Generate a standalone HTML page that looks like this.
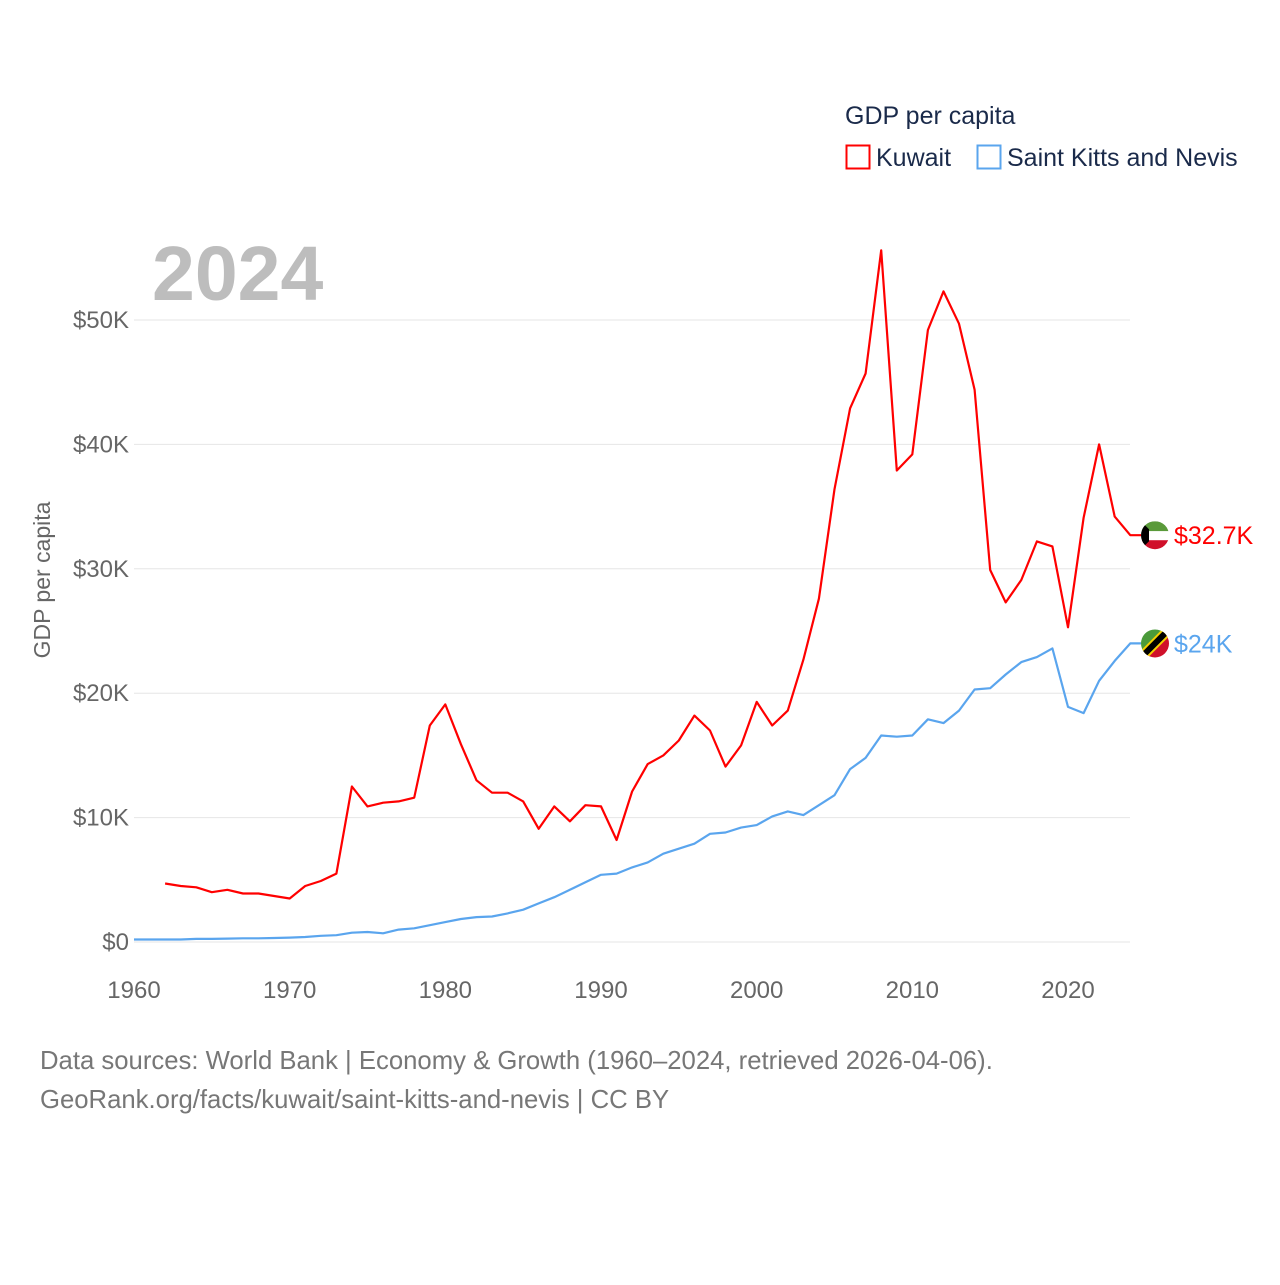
<!DOCTYPE html>
<html><head><meta charset="utf-8"><style>
body{margin:0;background:#fff;width:1280px;height:1280px;overflow:hidden;font-family:"Liberation Sans",sans-serif}
</style></head><body>
<svg id="chart" width="1280" height="1280" xmlns="http://www.w3.org/2000/svg" font-family="Liberation Sans, sans-serif">
<text x="845" y="124" font-size="25" fill="#1a2a4a">GDP per capita</text>
<rect x="846.5" y="145.5" width="23" height="23" fill="none" stroke="#f00" stroke-width="2"/>
<text x="876" y="166" font-size="25" fill="#1a2a4a">Kuwait</text>
<rect x="977.5" y="145.5" width="23" height="23" fill="none" stroke="#5aa5ee" stroke-width="2"/>
<text x="1007" y="166" font-size="25" fill="#1a2a4a">Saint Kitts and Nevis</text>
<text x="152" y="300" font-size="77" font-weight="bold" fill="#bdbdbd">2024</text>
<text transform="translate(50,580) rotate(-90)" text-anchor="middle" font-size="23" fill="#666">GDP per capita</text>
<g id="grid"></g><g id="series"></g>
<text x="40" y="1069" font-size="25.7" fill="#777">Data sources: World Bank | Economy &amp; Growth (1960–2024, retrieved 2026-04-06).</text>
<text x="40" y="1108" font-size="25.7" fill="#777">GeoRank.org/facts/kuwait/saint-kitts-and-nevis | CC BY</text>
</svg>
<script>
const yTicks=[0,10,20,30,40,50];
const xTicks=[1960,1970,1980,1990,2000,2010,2020];
const kuwaitStart=1962;
const kuwait=[4.7,4.5,4.4,4.0,4.2,3.9,3.9,3.7,3.5,4.5,4.9,5.5,12.5,10.9,11.2,11.3,11.6,17.4,19.1,15.9,13.0,12.0,12.0,11.3,9.1,10.9,9.7,11.0,10.9,8.2,12.1,14.3,15.0,16.2,18.2,17.0,14.1,15.8,19.3,17.4,18.6,22.7,27.6,36.4,42.9,45.7,55.6,37.9,39.2,49.2,52.3,49.7,44.4,29.9,27.3,29.1,32.2,31.8,25.3,34.1,40.0,34.2,32.7];
const sknStart=1960;
const skn=[0.2,0.2,0.2,0.2,0.25,0.25,0.27,0.3,0.3,0.32,0.35,0.4,0.5,0.55,0.75,0.8,0.7,1.0,1.1,1.35,1.6,1.85,2.0,2.05,2.3,2.6,3.1,3.6,4.2,4.8,5.4,5.5,6.0,6.4,7.1,7.5,7.9,8.7,8.8,9.2,9.4,10.1,10.5,10.2,11.0,11.8,13.9,14.8,16.6,16.5,16.6,17.9,17.6,18.6,20.3,20.4,21.5,22.5,22.9,23.6,18.9,18.4,21.0,22.6,24.0];
const X=y=>134+(y-1960)*934/60;
const Y=v=>942-v*12.44;
const NS="http://www.w3.org/2000/svg";
function mk(t,a,p){const e=document.createElementNS(NS,t);for(const k in a)e.setAttribute(k,a[k]);p.appendChild(e);return e;}
const g=document.getElementById('grid');
yTicks.forEach(v=>{
 const l=mk('line',{x1:134,x2:1130,y1:Y(v),y2:Y(v),stroke:'#e6e6e6','stroke-width':1},g);
 
 
 const t=mk('text',{x:129,y:Y(v)+8,'text-anchor':'end','font-size':24,fill:'#666'},g);
 
 
 t.textContent='$'+(v?v+'K':'0');
});
xTicks.forEach(v=>{
 const t=mk('text',{x:X(v),y:998,'text-anchor':'middle','font-size':24,fill:'#666'},g);
 
 
 t.textContent=v;
});
const s=document.getElementById('series');
function line(arr,start,col,name){
 let d=arr.map((v,i)=>(i?'L':'M')+X(start+i).toFixed(1)+','+Y(v).toFixed(1)).join('');
 d+='L1141,'+Y(arr[arr.length-1]).toFixed(1);
 const p=mk('path',{d:d,fill:'none',stroke:col,'stroke-width':2.2,'stroke-linejoin':'round'},s);
 
 
}
line(skn,sknStart,'#5aa5ee','skn-line');
line(kuwait,kuwaitStart,'#f00','kuwait-line');
function endLabel(arr,start,col,name,text,kind){
 const v=arr[arr.length-1],yy=Y(v),cx=1155;
 const grp=mk('g',{},s);
 
 
 if(kind==='kw'){
  mk('clipPath',{id:'ck'},grp);
  mk('circle',{cx:cx,cy:yy,r:14},grp.lastChild);
  const c=mk('g',{'clip-path':'url(#ck)'},grp);
  mk('rect',{x:cx-14,y:yy-14,width:28,height:10,fill:'#5a9a3a'},c);
  mk('rect',{x:cx-14,y:yy-4,width:28,height:9,fill:'#fff'},c);
  mk('rect',{x:cx-14,y:yy+5,width:28,height:10,fill:'#d0102a'},c);
  mk('path',{d:`M${cx-14},${yy-14}L${cx-6},${yy-6}L${cx-6},${yy+6}L${cx-14},${yy+14}Z`,fill:'#000'},c);
 }else{
  mk('clipPath',{id:'cs'},grp);
  mk('circle',{cx:cx,cy:yy,r:14},grp.lastChild);
  const c=mk('g',{'clip-path':'url(#cs)'},grp);
  mk('path',{d:`M${cx-14},${yy-14}L${cx+14},${yy-14}L${cx-14},${yy+14}Z`,fill:'#4a9a3a'},c);
  mk('path',{d:`M${cx+14},${yy-14}L${cx+14},${yy+14}L${cx-14},${yy+14}Z`,fill:'#d0102a'},c);
  mk('line',{x1:cx-16,y1:yy+16,x2:cx+16,y2:yy-16,stroke:'#f5d000','stroke-width':10},c);
  mk('line',{x1:cx-16,y1:yy+16,x2:cx+16,y2:yy-16,stroke:'#000','stroke-width':6},c);
 }
 const t=mk('text',{x:1174,y:yy+9,'font-size':25,fill:col},s);
 
 
 t.textContent=text;
}
endLabel(kuwait,kuwaitStart,'#f00','kuwait','$'+kuwait[kuwait.length-1]+'K','kw');
endLabel(skn,sknStart,'#5aa5ee','skn','$'+skn[skn.length-1].toFixed(0)+'K','sk');
</script>
</body></html>
